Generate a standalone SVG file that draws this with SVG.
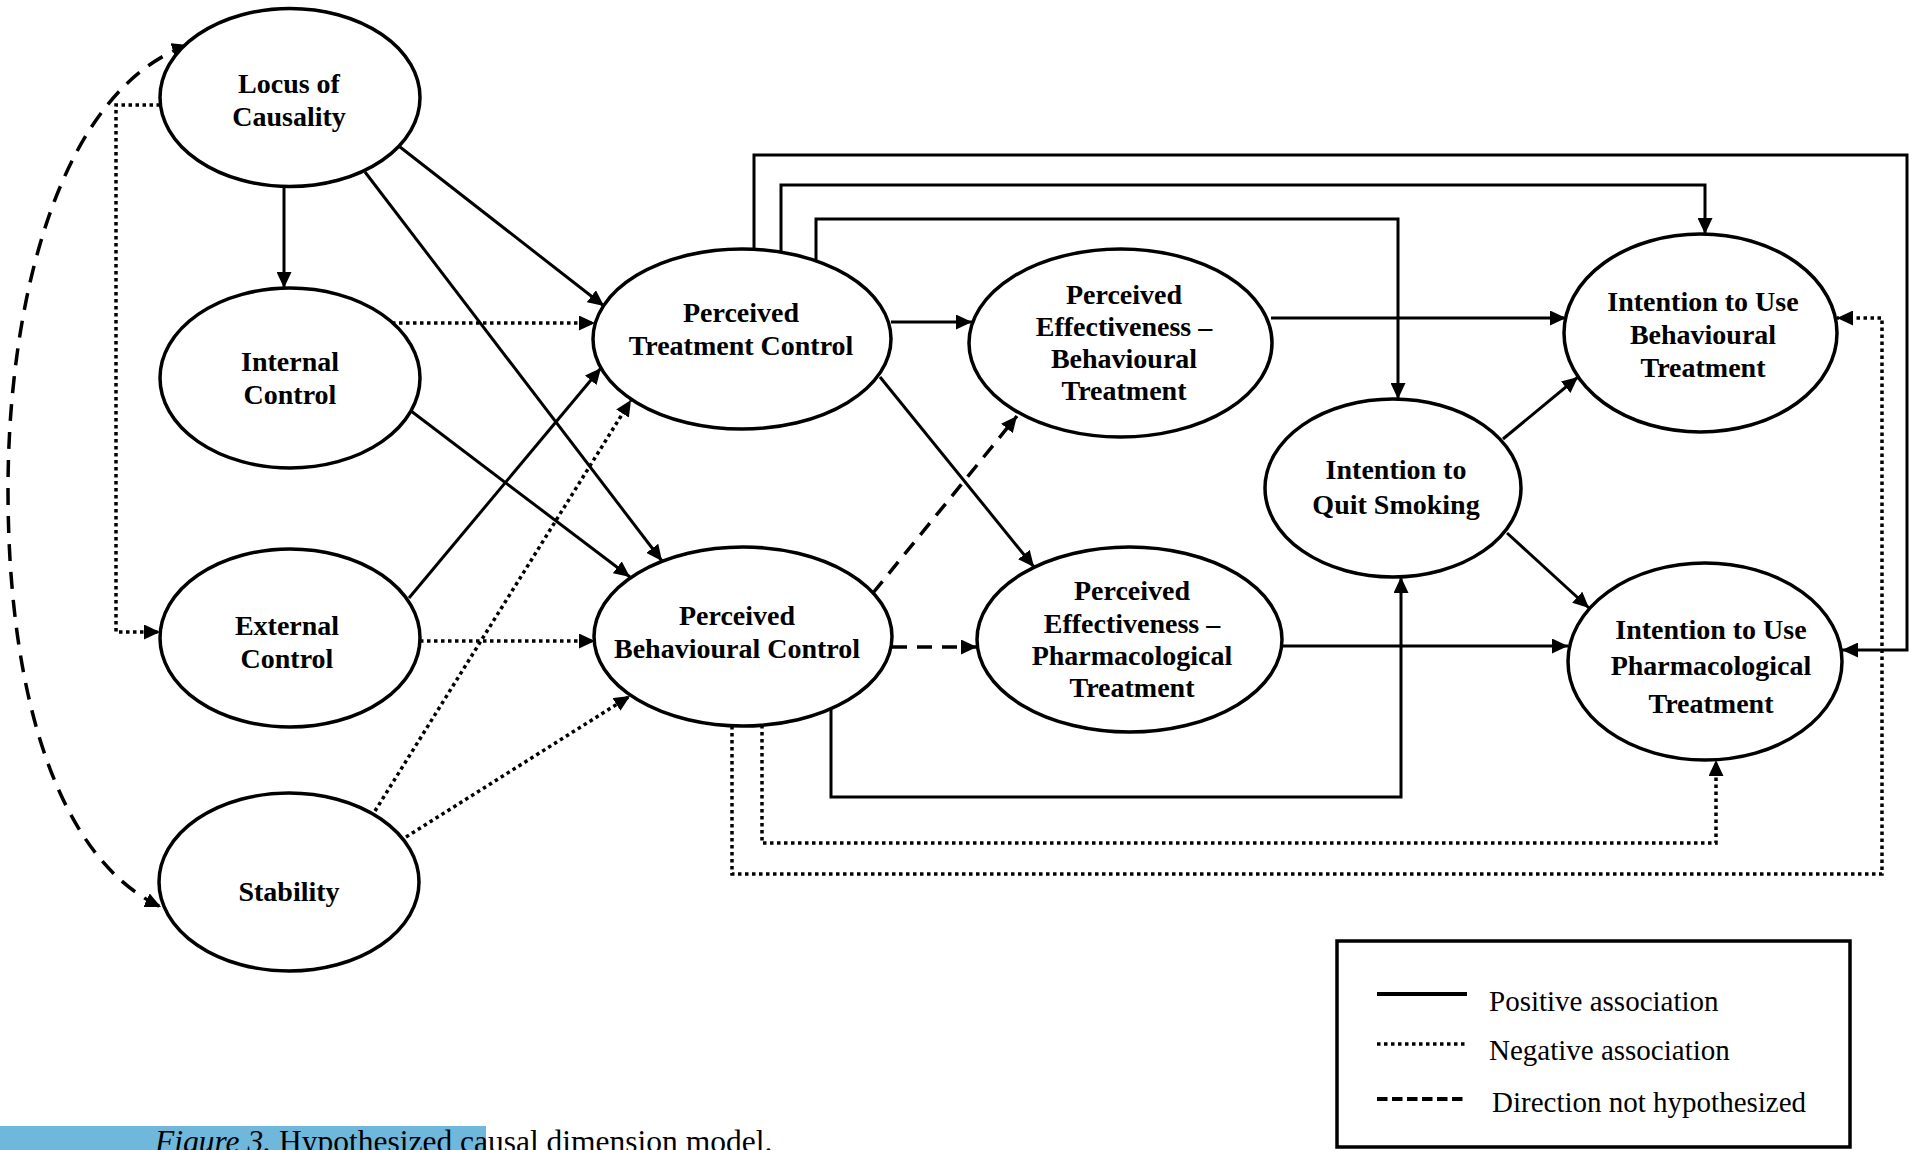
<svg xmlns="http://www.w3.org/2000/svg" width="1910" height="1150" viewBox="0 0 1910 1150">
<defs>
<style>
.node ellipse{fill:#fff;stroke:#000;stroke-width:3.5}
.node text{font-family:"Liberation Serif","Times New Roman",serif;font-weight:bold;font-size:28px;text-anchor:middle;fill:#000}
.e{fill:none;stroke:#000;stroke-width:3}
.dot{stroke-width:3.5;stroke-dasharray:3.5 3.5}
.dash{stroke-width:3.5;stroke-dasharray:15 10}
.leg{font-family:"Liberation Serif","Times New Roman",serif;font-size:29px;fill:#000}
</style>
<marker id="ah" markerUnits="userSpaceOnUse" markerWidth="17" markerHeight="15" refX="16" refY="7.5" orient="auto-start-reverse"><path d="M0,0 L16,7.5 L0,15 Z" fill="#000"/></marker>
</defs>
<rect width="1910" height="1150" fill="#fff"/>

<g id="connectors">
<path class="e" d="M284,187 L284,288" marker-end="url(#ah)"/>
<path class="e" d="M400,147 L604,306" marker-end="url(#ah)"/>
<path class="e" d="M365,172 L662,561" marker-end="url(#ah)"/>
<path class="e dot" d="M392,323 L595,323" marker-end="url(#ah)"/>
<path class="e" d="M411,411 L630,577" marker-end="url(#ah)"/>
<path class="e" d="M409,598 L601,368" marker-end="url(#ah)"/>
<path class="e dot" d="M420,641 L595,641" marker-end="url(#ah)"/>
<path class="e dot" d="M375,811 L631,400" marker-end="url(#ah)"/>
<path class="e dot" d="M406,837 L630,696" marker-end="url(#ah)"/>
<path class="e dot" d="M160,105 L116,105 L116,632 L160,632" marker-end="url(#ah)"/>
<path class="e dash" d="M188,45 C60,90 8,300 8,490 C8,700 60,860 161,907" style="stroke-dasharray:17 11" marker-start="url(#ah)" marker-end="url(#ah)"/>
<path class="e" d="M891,322 L972,322" marker-end="url(#ah)"/>
<path class="e" d="M880,377 L1034,567" marker-end="url(#ah)"/>
<path class="e dash" d="M873,593 L1017,416" marker-end="url(#ah)"/>
<path class="e dash" d="M892,647 L977,647" marker-end="url(#ah)"/>
<path class="e" d="M1271,318 L1566,318" marker-end="url(#ah)"/>
<path class="e" d="M1282,646 L1568,646" marker-end="url(#ah)"/>
<path class="e" d="M1503,439 L1578,377" marker-end="url(#ah)"/>
<path class="e" d="M1507,533 L1589,608" marker-end="url(#ah)"/>
<path class="e" d="M754,250 L754,155 L1907,155 L1907,650 L1842,650" marker-end="url(#ah)"/>
<path class="e" d="M781,253 L781,185 L1705,185 L1705,234" marker-end="url(#ah)"/>
<path class="e" d="M816,260 L816,219 L1398,219 L1398,399" marker-end="url(#ah)"/>
<path class="e" d="M831,709 L831,797 L1401,797 L1401,577" marker-end="url(#ah)"/>
<path class="e dot" d="M762,725 L762,843 L1716,843 L1716,760" marker-end="url(#ah)"/>
<path class="e dot" d="M732,726 L732,874 L1882,874 L1882,318 L1837,318" marker-end="url(#ah)"/>
</g>

<g id="n-locus" class="node"><ellipse cx="290" cy="97.5" rx="130" ry="89"/><text x="289" y="93">Locus of</text><text x="289" y="126">Causality</text></g>
<g id="n-internal" class="node"><ellipse cx="290" cy="378" rx="130" ry="90"/><text x="290" y="371">Internal</text><text x="290" y="404">Control</text></g>
<g id="n-external" class="node"><ellipse cx="290" cy="638" rx="130" ry="89"/><text x="287" y="635">External</text><text x="287" y="668">Control</text></g>
<g id="n-stability" class="node"><ellipse cx="289" cy="882" rx="130" ry="89"/><text x="289" y="901">Stability</text></g>
<g id="n-ptc" class="node"><ellipse cx="742" cy="339" rx="149" ry="90"/><text x="741" y="322">Perceived</text><text x="741" y="355">Treatment Control</text></g>
<g id="n-pbc" class="node"><ellipse cx="743" cy="636.5" rx="149" ry="89.5"/><text x="737" y="625">Perceived</text><text x="737" y="658">Behavioural Control</text></g>
<g id="n-peb" class="node"><ellipse cx="1120.5" cy="343" rx="151.5" ry="94"/><text x="1124" y="304">Perceived</text><text x="1124" y="336">Effectiveness –</text><text x="1124" y="368">Behavioural</text><text x="1124" y="400">Treatment</text></g>
<g id="n-pep" class="node"><ellipse cx="1129.5" cy="639.5" rx="152.5" ry="92.5"/><text x="1132" y="600">Perceived</text><text x="1132" y="633">Effectiveness –</text><text x="1132" y="665">Pharmacological</text><text x="1132" y="697">Treatment</text></g>
<g id="n-iqs" class="node"><ellipse cx="1393" cy="488" rx="128" ry="89"/><text x="1396" y="479">Intention to</text><text x="1396" y="514">Quit Smoking</text></g>
<g id="n-iub" class="node"><ellipse cx="1700.5" cy="333" rx="136.5" ry="99"/><text x="1703" y="311">Intention to Use</text><text x="1703" y="344">Behavioural</text><text x="1703" y="377">Treatment</text></g>
<g id="n-iup" class="node"><ellipse cx="1705" cy="661.5" rx="137" ry="98.5"/><text x="1711" y="639">Intention to Use</text><text x="1711" y="675">Pharmacological</text><text x="1711" y="713">Treatment</text></g>

<g id="legend">
<rect x="1337" y="941" width="513" height="206" fill="#fff" stroke="#000" stroke-width="3.5"/>
<line class="e" x1="1377" y1="994" x2="1467" y2="994" style="stroke-width:4"/>
<line class="e dot" x1="1377" y1="1044" x2="1467" y2="1044"/>
<line class="e" x1="1377" y1="1099" x2="1467" y2="1099" style="stroke-dasharray:10.5 4.5;stroke-width:4"/>
<text class="leg" x="1489" y="1011">Positive association</text>
<text class="leg" x="1489" y="1060">Negative association</text>
<text class="leg" x="1492" y="1112">Direction not hypothesized</text>
</g>

<g id="caption">
<rect x="0" y="1126" width="486" height="24" fill="#6fb8dc"/>
<text x="155" y="1152" style="font-family:'Liberation Serif','Times New Roman',serif;font-size:31.5px;fill:#000"><tspan font-style="italic">Figure 3.</tspan> Hypothesized causal dimension model.</text>
</g>
</svg>
